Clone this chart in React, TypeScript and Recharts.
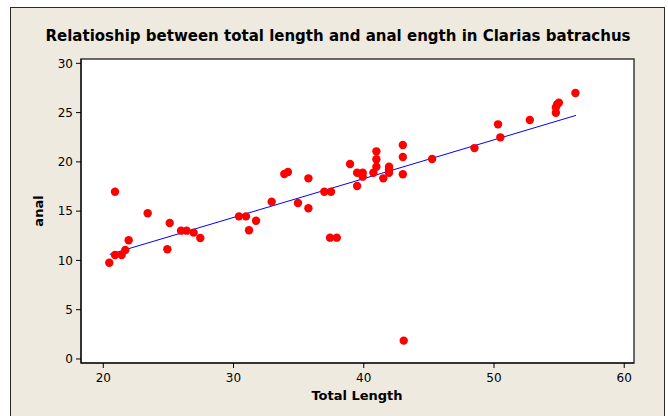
import React from "react";
import { ScatterChart, Scatter, XAxis, YAxis, ReferenceArea, ReferenceLine } from "recharts";

const totalLength = [
  20.46, 20.9, 21.41, 21.69, 21.95, 20.9, 23.41, 24.92, 25.1, 25.97, 26.4, 26.94, 27.45,
  30.42, 30.96, 31.19, 31.73, 32.93, 33.9, 34.18, 34.95, 35.75, 35.75, 36.97, 37.49,
  37.41, 37.93, 38.95, 39.49, 39.49, 39.92, 39.92, 40.74, 40.97, 40.97, 40.97, 41.5,
  41.94, 41.94, 41.94, 43.0, 43.0, 43.0, 43.07, 45.25, 48.5, 50.31, 50.49, 52.75,
  54.75, 54.75, 54.85, 54.98, 56.25,
];
const anal = [
  9.77, 10.55, 10.55, 11.06, 12.04, 16.97, 14.78, 11.13, 13.8, 13.02, 13.02, 12.82, 12.28,
  14.47, 14.47, 13.06, 14.03, 15.96, 18.77, 18.97, 15.83, 18.33, 15.3, 16.97, 16.97,
  12.31, 12.31, 19.78, 18.9, 17.55, 18.9, 18.5, 18.9, 19.51, 20.26, 21.07, 18.33,
  19.51, 19.17, 18.9, 21.71, 20.49, 18.74, 1.86, 20.29, 21.4, 23.81, 22.49, 24.25,
  24.99, 25.53, 25.84, 26.0, 26.99,
];
const fitX = [20.5, 56.3];
const fitY = [10.62, 24.72];
const xTicks = [20, 30, 40, 50, 60];
const yTicks = [0, 5, 10, 15, 20, 25, 30];
const xDomain: [number, number] = [18.29, 60.75];
const yDomain: [number, number] = [-0.41, 30.44];

const points = totalLength.map((x, i) => ({ x, y: anal[i] }));
const fitSegment = fitX.map((x, i) => ({ x, y: fitY[i] }));

const FONT = "'DejaVu Sans', Verdana, sans-serif";

const Dot = (props: any) => {
  const { cx, cy } = props;
  return <circle cx={cx} cy={cy} r={4.2} fill="#FF0000" />;
};

export default function App() {
  return (
    <div style={{ position: "absolute", left: 0, top: 0, width: 668, height: 416, background: "#ffffff", overflow: "hidden" }}>
      <div
        style={{
          position: "absolute",
          left: 10,
          top: 7,
          width: 653,
          height: 409,
          background: "#EEEAE0",
          borderLeft: "1px solid #2a2a2a",
          borderTop: "1px solid #2a2a2a",
          borderRight: "1px solid #2a2a2a",
        }}
      />
      <div
        style={{
          position: "absolute",
          left: 0,
          width: 676,
          top: 27,
          textAlign: "center",
          fontFamily: FONT,
          fontWeight: "bold",
          fontSize: 15,
          color: "#000",
          whiteSpace: "nowrap",
        }}
      >
        Relatioship between total length and anal ength in Clarias batrachus
      </div>
      <div style={{ position: "absolute", left: 0, top: 0 }}>
        <ScatterChart width={668} height={416} margin={{ top: 59, right: 34, bottom: 23, left: 41 }}>
          <XAxis
            type="number"
            dataKey="x"
            domain={xDomain}
            allowDataOverflow
            ticks={xTicks}
            height={30}
            tickSize={5}
            tickMargin={5}
            axisLine={{ stroke: "#000" }}
            tickLine={{ stroke: "#000" }}
            tick={{ fill: "#000", fontSize: 12, fontFamily: FONT }}
          />
          <YAxis
            type="number"
            dataKey="y"
            domain={yDomain}
            allowDataOverflow
            ticks={yTicks}
            width={40}
            tickSize={5}
            tickMargin={3}
            axisLine={{ stroke: "#000" }}
            tickLine={{ stroke: "#000" }}
            tick={{ fill: "#000", fontSize: 12, fontFamily: FONT }}
          />
          <ReferenceArea
            x1={xDomain[0]}
            x2={xDomain[1]}
            y1={yDomain[0]}
            y2={yDomain[1]}
            fill="#ffffff"
            fillOpacity={1}
            stroke="#3a3a3a"
            strokeWidth={1.5}
            ifOverflow="visible"
          />
          <ReferenceLine segment={fitSegment} stroke="#0000FF" strokeWidth={1} ifOverflow="visible" />
          <Scatter data={points} shape={<Dot />} isAnimationActive={false} />
        </ScatterChart>
      </div>
      <div
        style={{
          position: "absolute",
          left: 357,
          top: 395,
          transform: "translate(-50%, -50%)",
          fontFamily: FONT,
          fontWeight: "bold",
          fontSize: 13,
          whiteSpace: "nowrap",
        }}
      >
        Total Length
      </div>
      <div
        style={{
          position: "absolute",
          left: 38,
          top: 211,
          transform: "translate(-50%, -50%) rotate(-90deg)",
          fontFamily: FONT,
          fontWeight: "bold",
          fontSize: 13,
          whiteSpace: "nowrap",
        }}
      >
        anal
      </div>
    </div>
  );
}
